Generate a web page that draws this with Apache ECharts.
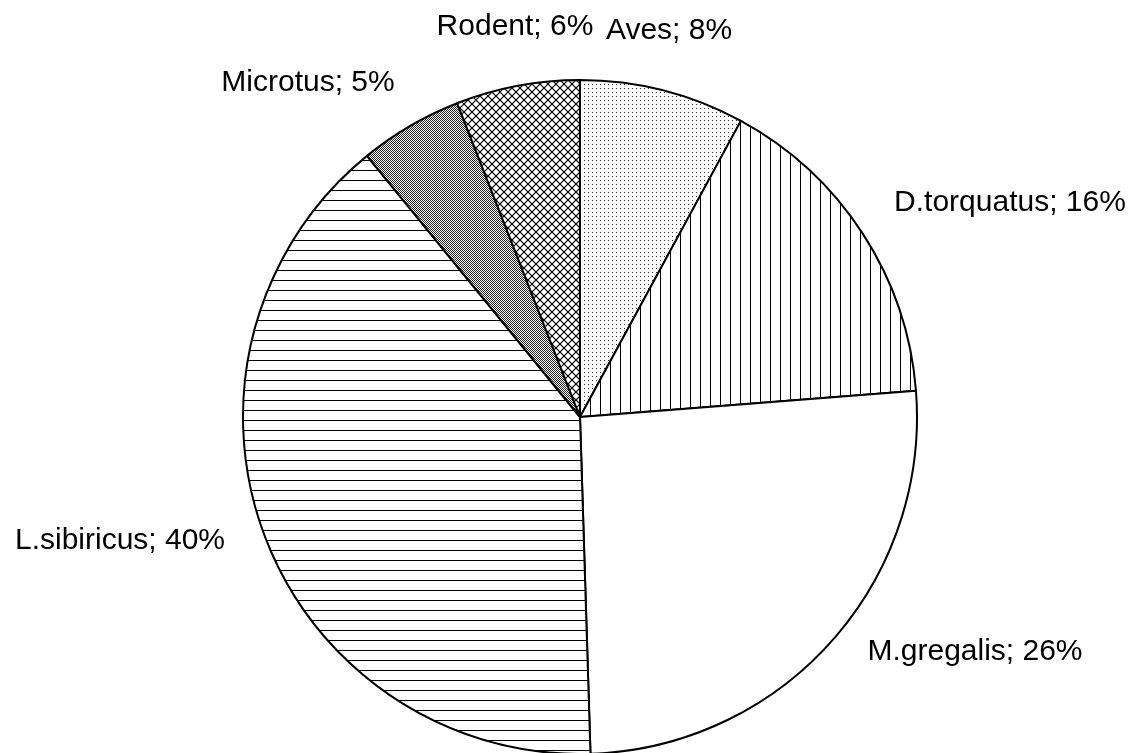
<!DOCTYPE html>
<html>
<head>
<meta charset="utf-8">
<title>Diet composition</title>
<script src="https://cdn.jsdelivr.net/npm/echarts@6/dist/echarts.min.js"></script>
<style>
  html, body { margin: 0; padding: 0; background: #fff; }
  #chart { width: 1131px; height: 753px; }
</style>
</head>
<body>
<div id="chart"></div>
<script>
// Prey categories and their share of the diet, in percent
const categories = ['Aves', 'D.torquatus', 'M.gregalis', 'L.sibiricus', 'Microtus', 'Rodent'];
const shares = [8, 16, 26, 40, 5, 6];

// Fill hatch for each category (same order as categories)
const fills = ['dots', 'vertical', 'plain', 'horizontal', 'checker', 'crosshatch'];

// Where each label sits (centre of the text)
const labelAnchors = [
  [669, 31], [1010, 203], [975, 652], [120, 541], [308, 83], [515, 27]
];

function makeTile(kind) {
  const c = document.createElement('canvas');
  const ctx = c.getContext('2d');
  let s = 10;
  if (kind === 'dots') s = 4;
  if (kind === 'checker') s = 2;
  if (kind === 'crosshatch') s = 8;
  c.width = s; c.height = s;
  ctx.fillStyle = '#fff';
  ctx.fillRect(0, 0, s, s);
  ctx.fillStyle = '#000';
  if (kind === 'dots') {
    ctx.fillStyle = '#333';
    ctx.fillRect(0, 0, 1, 1);
  } else if (kind === 'vertical') {
    ctx.fillRect(0, 0, 1, s);
  } else if (kind === 'horizontal') {
    ctx.fillRect(0, 0, s, 1);
  } else if (kind === 'checker') {
    ctx.fillStyle = '#222';
    ctx.fillRect(0, 0, 1, 1);
    ctx.fillRect(1, 1, 1, 1);
  } else if (kind === 'crosshatch') {
    ctx.strokeStyle = '#000';
    ctx.lineWidth = 1.2;
    ctx.beginPath();
    ctx.moveTo(-1, -1); ctx.lineTo(s + 1, s + 1);
    ctx.moveTo(-1, s + 1); ctx.lineTo(s + 1, -1);
    ctx.stroke();
  }
  return c;
}

const pieData = categories.map((name, i) => {
  const kind = fills[i];
  const color = kind === 'plain' ? '#fff' : { image: makeTile(kind), repeat: 'repeat' };
  return { name: name, value: shares[i], itemStyle: { color: color } };
});

const chart = echarts.init(document.getElementById('chart'), null, { renderer: 'canvas' });
chart.setOption({
  backgroundColor: '#fff',
  animation: false,
  series: [{
    type: 'pie',
    center: [580, 417],
    radius: 337,
    startAngle: 90,
    clockwise: true,
    data: pieData,
    itemStyle: { borderColor: '#000', borderWidth: 2 },
    emphasis: { disabled: true },
    label: {
      show: true,
      position: 'outside',
      formatter: '{b}; {c}%',
      color: '#000',
      fontSize: 30,
      overflow: 'none',
      fontFamily: '"Liberation Sans", Arial, sans-serif'
    },
    labelLine: { show: false },
    labelLayout: function (params) {
      const p = labelAnchors[params.dataIndex];
      return { x: p[0], y: p[1], align: 'center', verticalAlign: 'middle', width: 400 };
    }
  }]
});
</script>
</body>
</html>
